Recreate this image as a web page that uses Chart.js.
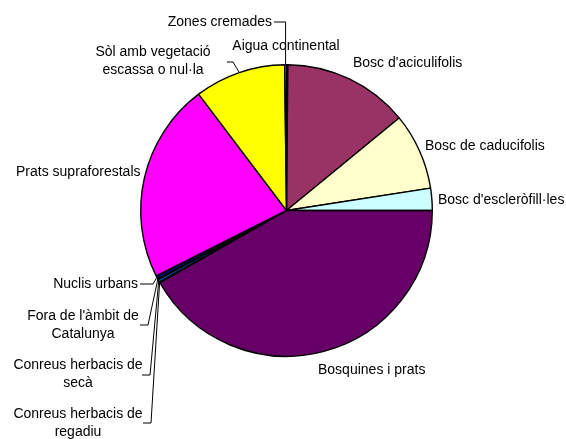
<!DOCTYPE html>
<html>
<head>
<meta charset="utf-8">
<script src="https://cdn.jsdelivr.net/npm/chart.js@4.4.1/dist/chart.umd.min.js"></script>
<style>
  html, body { margin: 0; padding: 0; background: #fff; }
  canvas { display: block; }
</style>
</head>
<body>
<canvas id="chart" width="566" height="439"></canvas>
<script>
const categories = [
  'Aigua continental',
  "Bosc d'aciculifolis",
  'Bosc de caducifolis',
  "Bosc d'escleròfill·les",
  'Bosquines i prats',
  'Conreus herbacis de\nregadiu',
  'Conreus herbacis de\nsecà',
  "Fora de l'àmbit de\nCatalunya",
  'Nuclis urbans',
  'Prats supraforestals',
  'Sòl amb vegetació\nescassa o nul·la',
  'Zones cremades'
]

// share of the area, %
const values = [0.15, 13.9, 8.5, 2.45, 41.75, 0.1, 0.3, 0.1, 0.35, 22.1, 10.1, 0.2]

const colours = [
  '#9999FF', '#993366', '#FFFFCC', '#CCFFFF', '#660066', '#FF8080',
  '#0066CC', '#CCCCFF', '#000080', '#FF00FF', '#FFFF00', '#00FFFF'
]

// where each label sits; leader = [startX, startY, elbowX (null = above the slice), elbowY]
const labelLayout = [
  { x: 286, y: 46, align: 'center' },
  { x: 353, y: 63, align: 'left' },
  { x: 425, y: 146, align: 'left' },
  { x: 438, y: 200, align: 'left' },
  { x: 318, y: 370, align: 'left' },
  { x: 78, y: 414, align: 'center', leader: [143, 423, 151, 423] },
  { x: 78, y: 365, align: 'center', leader: [142, 375, 150, 375] },
  { x: 83, y: 316, align: 'center', leader: [140, 325, 148, 325] },
  { x: 138, y: 284, align: 'right', leader: [140, 284, 153, 284] },
  { x: 16, y: 172, align: 'left' },
  { x: 153, y: 52, align: 'center', leader: [227, 62, 233, 62] },
  { x: 272, y: 22, align: 'right', leader: [274, 22, null, 22] }
]

const lineHeight = 18

const outsideLabels = {
  id: 'outsideLabels',
  afterDatasetsDraw (chart) {
    const { ctx } = chart
    const arcs = chart.getDatasetMeta(0).data

    ctx.save()
    ctx.font = '14px "Liberation Sans", Arial, sans-serif'
    ctx.fillStyle = '#000'
    ctx.strokeStyle = '#000'
    ctx.lineWidth = 1
    ctx.textBaseline = 'middle'

    arcs.forEach((arc, i) => {
      const place = labelLayout[i]
      const { x, y, startAngle, endAngle, outerRadius } = arc.getProps(
        ['x', 'y', 'startAngle', 'endAngle', 'outerRadius'], true
      )

      ctx.textAlign = place.align
      categories[i].split('\n').forEach((line, n) => {
        ctx.fillText(line, place.x, place.y + n * lineHeight)
      })

      if (place.leader) {
        const mid = (startAngle + endAngle) / 2
        const px = x + Math.cos(mid) * outerRadius
        const py = y + Math.sin(mid) * outerRadius
        const [sx, sy, ex, ey] = place.leader
        ctx.beginPath()
        ctx.moveTo(sx, sy)
        ctx.lineTo(ex ?? px, ey)
        ctx.lineTo(px, py)
        ctx.stroke()
      }
    })
    ctx.restore()
  }
}

new Chart(document.getElementById('chart'), {
  type: 'pie',
  data: {
    labels: categories,
    datasets: [{
      data: values,
      backgroundColor: colours,
      borderColor: '#000',
      borderWidth: 1.4
    }]
  },
  options: {
    responsive: false,
    animation: false,
    events: [],
    layout: {
      padding: { top: 64, bottom: 82, left: 100, right: 93 }
    },
    plugins: {
      legend: { display: false },
      tooltip: { enabled: false }
    }
  },
  plugins: [outsideLabels]
})
</script>
</body>
</html>
